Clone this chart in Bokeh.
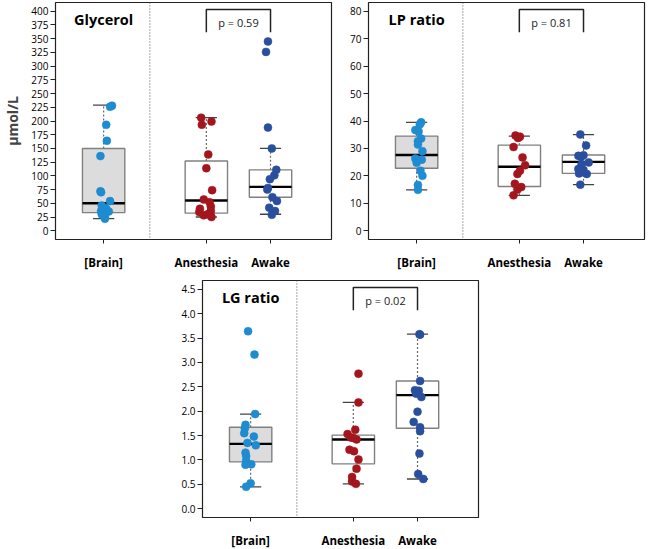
from bokeh.plotting import figure
from bokeh.models import FixedTicker, Span, PrintfTickFormatter, Spacer
from bokeh.layouts import column, row
from bokeh.core.properties import value
from bokeh.embed import file_html
from bokeh.resources import INLINE

# ---------------- data ----------------
group_labels = ["[Brain]", "Anesthesia", "Awake"]
group_x = [1.0, 2.6, 3.6]
sep_x = 1.72
group_colors = ["#1f8bd0", "#a3161e", "#2a4f9f"]

# Glycerol (umol/L)
gly_ticks = [0, 25, 50, 75, 100, 125, 150, 175, 200, 225, 250, 275, 300, 325, 350, 375, 400]
gly_lo = [22, 25, 30]
gly_q1 = [33, 32, 61]
gly_med = [50, 55, 80]
gly_q3 = [150, 127, 111]
gly_hi = [229, 206, 150]
gly_brain_val = [228, 226, 193, 164, 136, 72, 70, 54, 46, 40, 36, 35, 30, 26, 22]
gly_brain_dx = [0.13, 0.10, 0.04, 0.05, -0.05, -0.05, -0.04, 0.10, -0.03, 0.04, -0.04, 0.08, -0.03, 0.02, 0.02]
gly_anes_val = [206, 193, 199, 139, 114, 74, 57, 52, 40, 44, 34, 36, 28, 25, 30]
gly_anes_dx = [-0.08, -0.07, 0.08, 0.03, 0.00, 0.09, -0.04, 0.05, -0.10, 0.07, -0.11, 0.07, -0.04, 0.08, 0.02]
gly_awake_val = [345, 326, 188, 150, 111, 101, 94, 78, 75, 61, 54, 42, 36, 29]
gly_awake_dx = [-0.04, -0.07, -0.04, 0.02, 0.09, 0.06, -0.01, -0.04, -0.05, 0.03, 0.10, -0.02, 0.07, 0.02]

# LP ratio
lp_ticks = [0, 10, 20, 30, 40, 50, 60, 70, 80]
lp_lo = [14.9, 12.9, 16.8]
lp_q1 = [22.8, 16.1, 20.9]
lp_med = [27.6, 23.3, 25.1]
lp_q3 = [34.5, 31.2, 27.6]
lp_hi = [39.5, 34.5, 35.0]
lp_brain_val = [39.5, 38.8, 36.7, 36.2, 33.6, 32.6, 31.4, 29.0, 26.3, 25.9, 24.8, 21.9, 20.0, 16.7, 14.9]
lp_brain_dx = [0.07, 0.05, -0.02, 0.03, 0.07, 0.02, 0.02, 0.09, -0.02, 0.08, 0.00, 0.06, 0.09, 0.02, 0.02]
lp_anes_val = [34.7, 34.3, 33.8, 30.5, 26.7, 23.9, 21.9, 20.7, 17.1, 15.9, 15.0, 12.9]
lp_anes_dx = [-0.06, 0.01, -0.02, -0.09, 0.05, 0.09, 0.01, -0.03, -0.07, 0.03, -0.03, -0.09]
lp_awake_val = [35.1, 31.1, 27.3, 27.5, 26.9, 24.9, 24.2, 22.5, 22.1, 21.3, 20.7, 20.9, 16.8]
lp_awake_dx = [-0.05, 0.04, -0.08, 0.00, -0.04, 0.08, -0.03, -0.08, 0.00, -0.03, 0.05, -0.07, -0.05]

# LG ratio
lg_ticks = [0.0, 0.5, 1.0, 1.5, 2.0, 2.5, 3.0, 3.5, 4.0, 4.5]
lg_lo = [0.45, 0.51, 0.61]
lg_q1 = [0.96, 0.92, 1.65]
lg_med = [1.33, 1.42, 2.33]
lg_q3 = [1.67, 1.51, 2.62]
lg_hi = [1.94, 2.18, 3.58]
lg_brain_val = [3.64, 3.16, 1.94, 1.72, 1.65, 1.55, 1.48, 1.35, 1.30, 1.15, 1.08, 0.98, 0.91, 0.90, 0.52, 0.45]
lg_brain_dx = [-0.04, 0.06, 0.07, -0.08, -0.09, -0.10, 0.05, -0.05, 0.08, -0.08, -0.07, -0.07, 0.01, -0.08, 0.00, -0.07]
lg_anes_val = [2.77, 2.18, 1.53, 1.62, 1.46, 1.42, 1.45, 1.21, 1.18, 1.01, 0.82, 0.65, 0.56, 0.51]
lg_anes_dx = [0.08, 0.08, -0.09, 0.03, -0.04, 0.05, 0.00, -0.06, 0.01, 0.08, 0.05, -0.02, -0.02, 0.04]
lg_awake_val = [3.58, 3.57, 2.62, 2.43, 2.42, 2.29, 2.36, 1.99, 1.78, 1.67, 1.59, 1.13, 0.71, 0.61]
lg_awake_dx = [0.03, 0.04, 0.04, -0.04, 0.02, 0.06, -0.02, 0.00, -0.06, 0.04, 0.04, 0.03, 0.01, 0.09]

p_texts = ["p = 0.59", "p = 0.81", "p = 0.02"]
titles = ["Glycerol", "LP ratio", "LG ratio"]

FONT = "Open Sans"
BOX_HALF = 0.33
CAP_HALF = 0.165
FRAME_W = 276
FRAME_H = 237


def panel(title, ticks, lo, q1, med, q3, hi, pts, ptxt, fmt, bl, bt, bb, br, ylabel=None):
    ymin = ticks[0] - 0.04 * (ticks[-1] - ticks[0])
    ymax = ticks[-1] + 0.04 * (ticks[-1] - ticks[0])
    span = ymax - ymin
    p = figure(frame_width=FRAME_W, frame_height=FRAME_H, x_range=(0.25, 4.55), y_range=(ymin, ymax),
               output_backend="svg", toolbar_location=None,
               min_border_left=bl, min_border_top=bt, min_border_bottom=bb, min_border_right=br)
    p.xgrid.visible = False
    p.ygrid.visible = False
    p.outline_line_color = "#222222"
    p.outline_line_width = 1.2
    p.background_fill_color = "white"
    p.border_fill_color = "white"

    for ax in (p.xaxis[0], p.yaxis[0]):
        ax.axis_line_color = None
        ax.major_tick_line_color = "#222222"
        ax.minor_tick_line_color = None
        ax.major_tick_in = 0
        ax.major_label_text_font = FONT
        ax.major_label_text_color = "black"
    p.xaxis.ticker = FixedTicker(ticks=group_x)
    p.xaxis.major_label_overrides = {gx: lab for gx, lab in zip(group_x, group_labels)}
    p.xaxis.major_tick_out = 4
    p.xaxis.major_label_standoff = 11
    p.xaxis.major_label_text_font_style = "bold"
    p.xaxis.major_label_text_font_size = "11.5px"
    p.yaxis.ticker = FixedTicker(ticks=ticks)
    p.yaxis.formatter = PrintfTickFormatter(format=fmt)
    p.yaxis.major_tick_out = 5
    p.yaxis.major_label_standoff = 2
    p.yaxis.major_label_text_font_size = "10px"
    if ylabel:
        p.yaxis.axis_label = ylabel
        p.yaxis.axis_label_text_font = FONT
        p.yaxis.axis_label_text_font_style = "bold"
        p.yaxis.axis_label_text_font_size = "14px"
        p.yaxis.axis_label_standoff = 6

    p.add_layout(Span(location=sep_x, dimension="height", line_color="#555555",
                      line_dash="1 2", line_width=1))

    fills = ["#dcdcdc", "white", "white"]
    lefts = [gx - BOX_HALF for gx in group_x]
    rights = [gx + BOX_HALF for gx in group_x]
    cl = [gx - CAP_HALF for gx in group_x]
    cr = [gx + CAP_HALF for gx in group_x]
    # whiskers
    p.segment(x0=group_x, y0=q3, x1=group_x, y1=hi, line_color="#666666", line_dash="2 2", line_width=1.2)
    p.segment(x0=group_x, y0=lo, x1=group_x, y1=q1, line_color="#666666", line_dash="2 2", line_width=1.2)
    p.segment(x0=cl, y0=hi, x1=cr, y1=hi, line_color="#444444", line_width=1.3)
    p.segment(x0=cl, y0=lo, x1=cr, y1=lo, line_color="#444444", line_width=1.3)
    p.quad(left=lefts, right=rights, bottom=q1, top=q3, fill_color=fills, line_color="#808080", line_width=1.4)
    p.segment(x0=lefts, y0=med, x1=rights, y1=med, line_color="black", line_width=2.4)

    for gx, col, (vals, dxs) in zip(group_x, group_colors, pts):
        xs = [gx + d for d in dxs]
        p.scatter(x=xs, y=vals, size=8, fill_color=col, line_color=col, line_width=0.5)

    # p-value bracket
    top = ymax - 0.03 * span
    bot = ymax - 0.125 * span
    p.line(x=[group_x[1], group_x[1], group_x[2], group_x[2]], y=[bot, top, top, bot],
           line_color="#222222", line_width=1.5)
    p.text(x=[(group_x[1] + group_x[2]) / 2], y=[ymax - 0.083 * span], text=[ptxt],
           text_font=value(FONT), text_font_size="11px", text_align="center", text_baseline="middle",
           text_color="#222222")
    p.text(x=[group_x[0]], y=[ymax - 0.072 * span], text=[title],
           text_font=value(FONT), text_font_style="bold", text_font_size="14.5px",
           text_align="center", text_baseline="middle", text_color="black")
    return p


p1 = panel(titles[0], gly_ticks, gly_lo, gly_q1, gly_med, gly_q3, gly_hi,
           [(gly_brain_val, gly_brain_dx), (gly_anes_val, gly_anes_dx), (gly_awake_val, gly_awake_dx)],
           p_texts[0], "%d", 48, 2, 37, 5, ylabel="µmol/L")
p2 = panel(titles[1], lp_ticks, lp_lo, lp_q1, lp_med, lp_q3, lp_hi,
           [(lp_brain_val, lp_brain_dx), (lp_anes_val, lp_anes_dx), (lp_awake_val, lp_awake_dx)],
           p_texts[1], "%d", 32, 2, 37, 2)
p3 = panel(titles[2], lg_ticks, lg_lo, lg_q1, lg_med, lg_q3, lg_hi,
           [(lg_brain_val, lg_brain_dx), (lg_anes_val, lg_anes_dx), (lg_awake_val, lg_awake_dx)],
           p_texts[2], "%.1f", 30, 4, 29, 2)

layout = column(row(p1, p2), row(Spacer(width=172, height=10), p3))

open("out.html", "w").write(file_html(layout, INLINE))
